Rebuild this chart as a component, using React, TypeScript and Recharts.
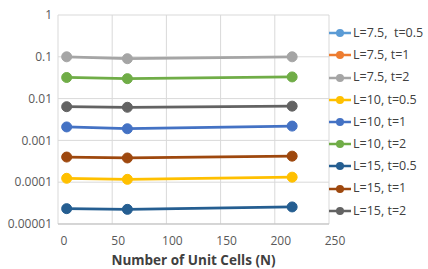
import { LineChart, Line, XAxis, YAxis, CartesianGrid } from 'recharts';

// number of unit cells (2^3, 4^3, 6^3)
const unitCells = [8, 64, 216];

const l75t05: (number | null)[] = [null, null, null];
const l75t1: (number | null)[] = [null, null, null];
const l75t2 = [0.1, 0.09, 0.1];
const l10t05 = [0.000124, 0.000117, 0.000132];
const l10t1 = [0.0021, 0.0019, 0.0022];
const l10t2 = [0.032, 0.03, 0.033];
const l15t05 = [0.0000233, 0.0000224, 0.0000256];
const l15t1 = [0.0004, 0.00038, 0.00042];
const l15t2 = [0.0064, 0.0062, 0.0066];

const xTicks = [0, 50, 100, 150, 200, 250];
const yTicks = [0.00001, 0.0001, 0.001, 0.01, 0.1, 1];
const yTickLabels = ['0.00001', '0.0001', '0.001', '0.01', '0.1', '1'];

const series = [
  { key: 'a', name: 'L=7.5,  t=0.5', values: l75t05, color: '#5B9BD5' },
  { key: 'b', name: 'L=7.5, t=1', values: l75t1, color: '#ED7D31' },
  { key: 'c', name: 'L=7.5, t=2', values: l75t2, color: '#A5A5A5' },
  { key: 'd', name: 'L=10, t=0.5', values: l10t05, color: '#FFC000' },
  { key: 'e', name: 'L=10, t=1', values: l10t1, color: '#4472C4' },
  { key: 'f', name: 'L=10, t=2', values: l10t2, color: '#70AD47' },
  { key: 'g', name: 'L=15, t=0.5', values: l15t05, color: '#255E91' },
  { key: 'h', name: 'L=15, t=1', values: l15t1, color: '#9E480E' },
  { key: 'i', name: 'L=15, t=2', values: l15t2, color: '#636363' },
];

const data = unitCells.map((n, i) => {
  const row: Record<string, number | null> = { n };
  series.forEach((s) => {
    row[s.key] = s.values[i];
  });
  return row;
});

const font = '"Open Sans", sans-serif';

export default function App() {
  return (
    <div style={{ position: 'absolute', left: 0, top: 0, width: 428, height: 269, background: '#fff', fontFamily: font }}>
      <LineChart width={428} height={269} data={data} margin={{ top: 15, right: 99, left: 0, bottom: 0 }}>
        <CartesianGrid stroke="#d9d9d9" strokeWidth={1} />
        <XAxis
          dataKey="n"
          type="number"
          domain={[0, 250]}
          ticks={xTicks}
          height={45}
          tickLine={false}
          axisLine={{ stroke: '#bfbfbf' }}
          tick={{ fontSize: 12, fill: '#595959', fontFamily: font, dx: 6 }}
          tickMargin={6}
          label={{
            value: 'Number of Unit Cells (N)',
            position: 'insideBottom',
            offset: 4,
            style: { fontSize: 13.5, fontWeight: 700, fill: '#404040', fontFamily: font },
          }}
        />
        <YAxis
          scale="log"
          domain={[0.00001, 1]}
          ticks={yTicks}
          allowDataOverflow
          width={58}
          tickLine={false}
          axisLine={false}
          tickSize={4}
          tickMargin={2}
          tick={{ fontSize: 12, fill: '#595959', fontFamily: font }}
          tickFormatter={(v: number) => yTickLabels[yTicks.indexOf(v)] ?? String(v)}
        />
        {series.map((s) => (
          <Line
            key={s.key}
            dataKey={s.key}
            name={s.name}
            stroke={s.color}
            strokeWidth={2.75}
            dot={{ r: 5, fill: s.color, stroke: s.color, strokeWidth: 1 }}
            isAnimationActive={false}
            connectNulls={false}
          />
        ))}
      </LineChart>
      <div
        style={{
          position: 'absolute',
          left: 323,
          top: 22,
          width: 105,
          fontSize: 12.5,
          color: '#404040',
          lineHeight: '22.2px',
        }}
      >
        {series.map((s) => (
          <div key={s.key} style={{ display: 'flex', alignItems: 'center', whiteSpace: 'pre' }}>
            <svg width={22} height={10} style={{ marginLeft: 6, marginRight: 2, flexShrink: 0 }}>
              <line x1={0} y1={5} x2={22} y2={5} stroke={s.color} strokeWidth={2.5} />
              <circle cx={11} cy={5} r={4} fill={s.color} />
            </svg>
            <span>{s.name}</span>
          </div>
        ))}
      </div>
    </div>
  );
}
